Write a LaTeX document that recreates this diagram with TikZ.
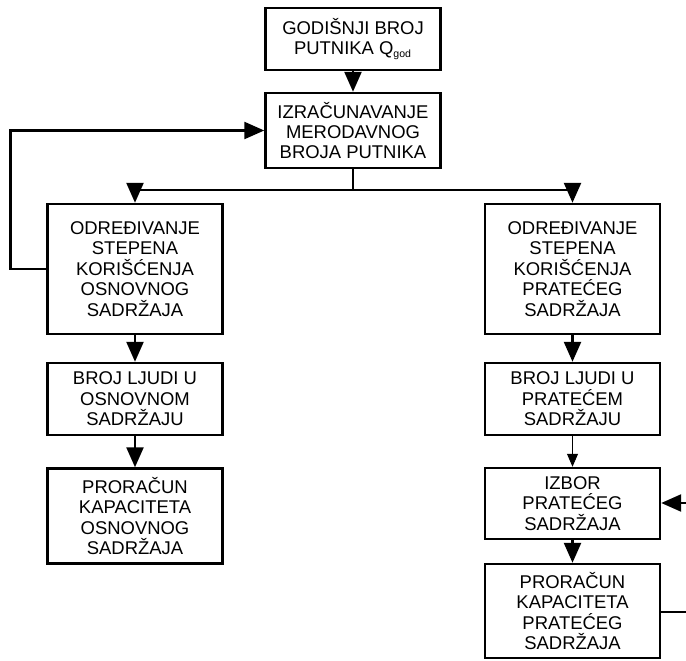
\documentclass[tikz,border=0pt]{standalone}
\usepackage{fontspec}
\setmainfont{Liberation Sans}
\usepackage{tikz}
\usetikzlibrary{arrows.meta}
\tikzset{>/.tip={Triangle[length=4mm,width=3.4mm]},
  box/.style={draw, line width=1.4pt, align=center, minimum width=3.5cm,
    font=\fontsize{10.5}{11.6}\selectfont, inner sep=1pt},
  conn/.style={line width=1.4pt},
  thin conn/.style={line width=0.5pt, >={Triangle[length=2.6mm,width=2.2mm]}}}
\newcommand{\god}{Q\textsubscript{\fontsize{6}{6}\selectfont god}}

\begin{document}
\begin{tikzpicture}
\useasboundingbox (0,0) rectangle (13.72,-13.2);
\node[box, minimum height=1.24cm] (g) at (7.06,-0.78) {GODIŠNJI BROJ\\ PUTNIKA \god};
\node[box, minimum height=1.5cm] (iz) at (7.06,-2.61) {IZRAČUNAVANJE\\ MERODAVNOG\\ BROJA PUTNIKA};
\node[box, minimum height=2.6cm] (ol) at (2.7,-5.38) {ODREĐIVANJE\\ STEPENA\\ KORIŠĆENJA\\ OSNOVNOG\\ SADRŽAJA};
\node[box, minimum height=2.6cm] (or) at (11.45,-5.38) {ODREĐIVANJE\\ STEPENA\\ KORIŠĆENJA\\ PRATEĆEG\\ SADRŽAJA};
\node[box, minimum height=1.44cm] (bl) at (2.7,-7.98) {BROJ LJUDI U\\ OSNOVNOM\\ SADRŽAJU};
\node[box, minimum height=1.44cm] (br) at (11.45,-7.98) {BROJ LJUDI U\\ PRATEĆEM\\ SADRŽAJU};
\node[box, minimum height=1.9cm] (pl) at (2.7,-10.32) {PRORAČUN\\ KAPACITETA\\ OSNOVNOG\\ SADRŽAJA};
\node[box, minimum height=1.42cm] (iza) at (11.45,-10.07) {IZBOR\\ PRATEĆEG\\ SADRŽAJA};
\node[box, minimum height=1.88cm] (pr) at (11.45,-12.22) {PRORAČUN\\ KAPACITETA\\ PRATEĆEG\\ SADRŽAJA};

\coordinate (split) at (7.06,-3.8);
\coordinate (outr) at (13.72,-12.24);
\coordinate (inr) at (13.72,-10.06);

\draw[conn,->] (g) -- (iz);
\draw[conn] (iz) -- (split);
\draw[conn,->] (split) -| (ol);
\draw[conn,->] (split) -| (or);
\draw[conn,->] (ol.west) -- ++(-0.72,0) |- (iz.west);
\draw[conn,->] (ol) -- (bl);
\draw[conn,->] (bl) -- (pl);
\draw[conn,->] (or) -- (br);
\draw[thin conn,->] (br) -- (iza);
\draw[conn,->] (iza) -- (pr);
\draw[conn] (pr.east |- outr) -- (outr);
\draw[conn,->] (inr) -- (iza.east |- inr);
\end{tikzpicture}
\end{document}
